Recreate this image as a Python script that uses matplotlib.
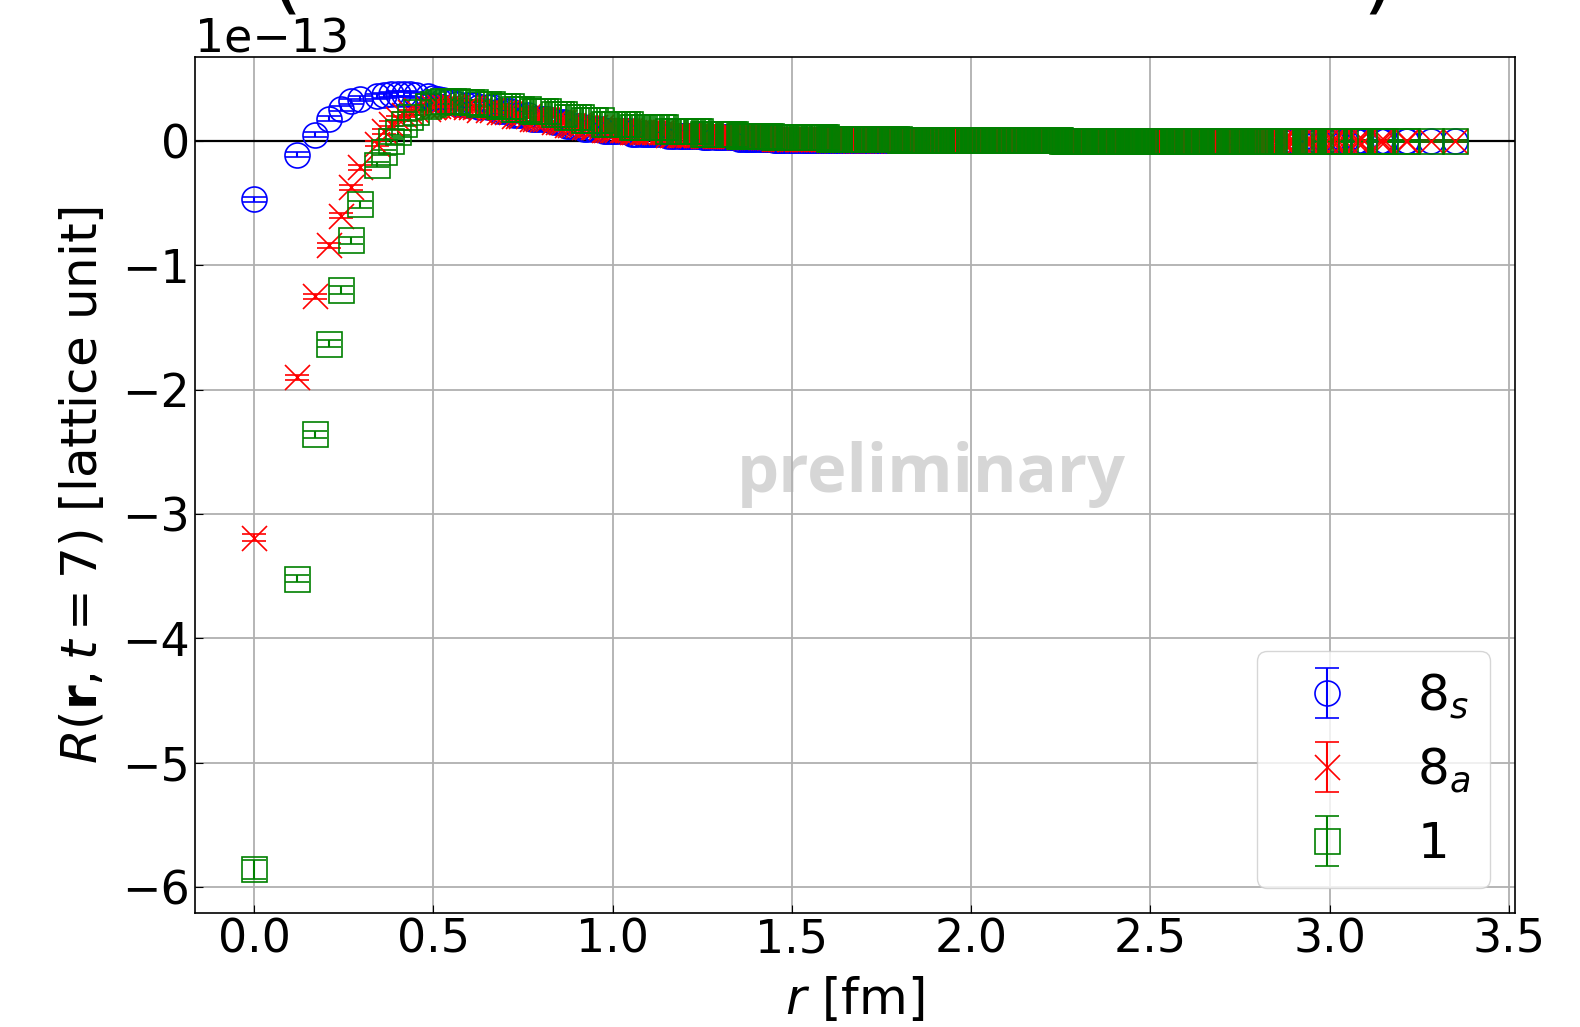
import numpy as np
import matplotlib
matplotlib.use("Agg")
import matplotlib.pyplot as plt

plt.rcParams["font.size"] = 33
plt.rcParams["xtick.direction"] = "in"
plt.rcParams["ytick.direction"] = "in"
plt.rcParams["xtick.major.size"] = 6
plt.rcParams["ytick.major.size"] = 6
plt.rcParams["axes.linewidth"] = 1.2

# lattice spacing [fm] and half box size
a_fm = 0.1209
half_L = 16

# short-distance shells n = x^2 + y^2 + z^2, values in units of 1e-13
n_near = [0, 1, 2, 3, 4, 5, 6, 8, 9, 10, 11, 12, 13, 14, 16, 17, 18, 19, 20, 21, 22]
R_8s_near = [-0.47, -0.11, 0.05, 0.18, 0.26, 0.32, 0.34, 0.36, 0.37, 0.375, 0.38,
             0.38, 0.375, 0.37, 0.36, 0.35, 0.34, 0.33, 0.32, 0.31, 0.30]
R_8a_near = [-3.19, -1.90, -1.25, -0.84, -0.60, -0.37, -0.21, -0.02, 0.08, 0.14, 0.18,
             0.21, 0.23, 0.25, 0.26, 0.27, 0.28, 0.28, 0.28, 0.28, 0.27]
R_1_near = [-5.86, -3.52, -2.36, -1.63, -1.20, -0.80, -0.51, -0.19, -0.09, 0.00, 0.07,
            0.14, 0.19, 0.23, 0.28, 0.30, 0.31, 0.32, 0.32, 0.32, 0.32]
err_8s_near = [0.02, 0.02, 0.02, 0.02, 0.02, 0.02, 0.02, 0.02, 0.02, 0.02, 0.02,
               0.02, 0.02, 0.02, 0.02, 0.02, 0.02, 0.02, 0.02, 0.02, 0.02]
err_8a_near = [0.03, 0.02, 0.02, 0.02, 0.02, 0.02, 0.02, 0.02, 0.02, 0.02, 0.02,
               0.02, 0.02, 0.02, 0.02, 0.02, 0.02, 0.02, 0.02, 0.02, 0.02]
err_1_near = [0.08, 0.03, 0.03, 0.03, 0.03, 0.03, 0.03, 0.02, 0.02, 0.02, 0.02,
              0.02, 0.02, 0.02, 0.02, 0.02, 0.02, 0.02, 0.02, 0.02, 0.02]

# longer distances, read per r-bin (bin starts in fm)
r_bins = [0.57, 0.62, 0.67, 0.72, 0.77, 0.82, 0.87, 0.92, 0.97, 1.05,
          1.15, 1.25, 1.35, 1.45, 1.60, 1.80, 2.00, 2.25, 2.50, 3.00]
R_8s_far = [0.29, 0.27, 0.24, 0.21, 0.18, 0.15, 0.12, 0.10, 0.08, 0.06,
            0.04, 0.03, 0.02, 0.01, 0.005, 0.005, 0.005, 0.00, 0.00, 0.00]
R_8a_far = [0.27, 0.25, 0.23, 0.20, 0.18, 0.15, 0.13, 0.11, 0.09, 0.07,
            0.05, 0.04, 0.03, 0.02, 0.01, 0.005, 0.005, 0.00, 0.00, 0.00]
R_1_far = [0.31, 0.30, 0.28, 0.26, 0.24, 0.22, 0.19, 0.17, 0.14, 0.11,
           0.08, 0.06, 0.04, 0.03, 0.015, 0.008, 0.008, 0.00, 0.00, 0.00]
err_far = [0.02, 0.02, 0.02, 0.015, 0.015, 0.015, 0.015, 0.01, 0.01, 0.01,
           0.01, 0.01, 0.01, 0.01, 0.01, 0.01, 0.01, 0.01, 0.01, 0.01]

# all distinct |r|^2 on the periodic box
shells = sorted({x * x + y * y + z * z
                 for x in range(half_L + 1)
                 for y in range(x + 1)
                 for z in range(y + 1)})
n_far = [n for n in shells if n > n_near[-1]]

r_near = a_fm * np.sqrt(n_near)
r_far = a_fm * np.sqrt(n_far)
idx = np.digitize(r_far, r_bins) - 1
idx = np.clip(idx, 0, len(r_bins) - 1)

r = np.concatenate([r_near, r_far])
series = [
    (R_8s_near, R_8s_far, err_8s_near, "blue", "o", r"$8_s$"),
    (R_8a_near, R_8a_far, err_8a_near, "red", "x", r"$8_a$"),
    (R_1_near, R_1_far, err_1_near, "green", "s", r"$1$"),
]

fig = plt.figure(figsize=(15.8, 10.27), dpi=100)
ax = fig.add_axes([0.1234, 0.111, 0.8355, 0.8335])
ax.grid(True, color="#b0b0b0", linewidth=1.3)
ax.axhline(0, color="k", linewidth=1.6)

for near, far, err_near, col, mk, lab in series:
    vals = np.concatenate([near, np.array(far)[idx]]) * 1e-13
    errs = np.concatenate([err_near, np.array(err_far)[idx]]) * 1e-13
    ax.errorbar(r, vals, yerr=errs, fmt=mk, color=col, mfc="none", ms=18,
                mew=1.2, elinewidth=1.5, capsize=8.5, label=lab)

ax.set_xlim(-0.165, 3.517)
ax.set_ylim(-6.21e-13, 0.676e-13)
ax.set_xlabel(r"$r$ [fm]", fontsize=36, labelpad=9)
ax.set_ylabel(r"$R(\mathbf{r}, t=7)$ [lattice unit]", fontsize=36, labelpad=11)
ax.legend(loc="lower right", fontsize=36)

ax.text(0.558, 0.492, "preliminary", transform=ax.transAxes, ha="center",
        va="baseline", fontsize=48, family="Open Sans", fontweight="bold",
        color="#d6d6d6", zorder=1)

# large brackets of the heading, mostly above the canvas
fig.text(0.171, 0.997, "(", fontsize=60, ha="left", va="baseline")
fig.text(0.862, 0.997, ")", fontsize=60, ha="left", va="baseline")

fig.savefig("out.png", dpi=100)
